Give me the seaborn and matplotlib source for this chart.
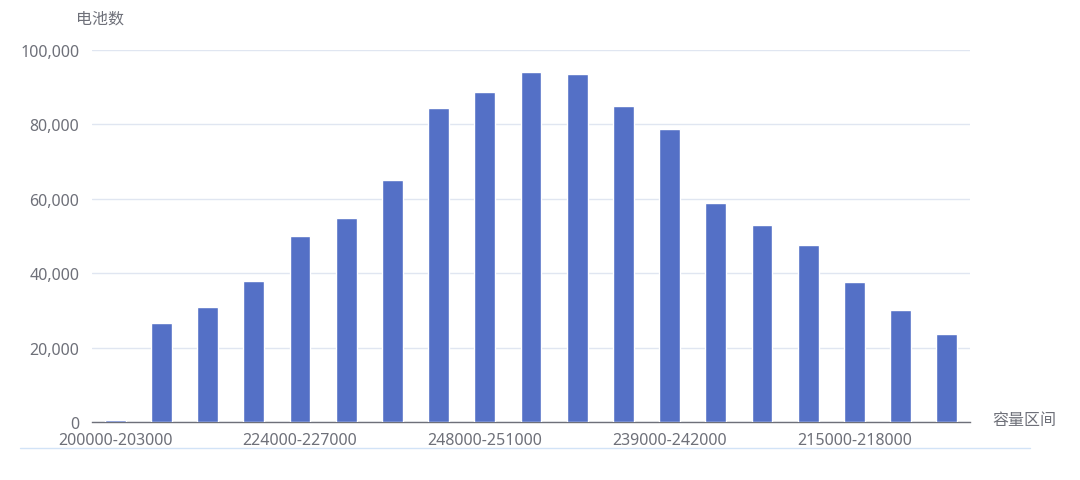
import matplotlib
matplotlib.use('Agg')
import matplotlib.pyplot as plt
import seaborn as sns
import pandas as pd
from matplotlib.lines import Line2D
from matplotlib.ticker import FuncFormatter

# capacity bins (only every 4th label is shown on the axis)
bins = ['200000-203000', '206000-209000', '212000-215000', '218000-221000',
        '224000-227000', '230000-233000', '236000-239000', '242000-245000',
        '248000-251000', '254000-257000', '251000-254000', '245000-248000',
        '239000-242000', '233000-236000', '227000-230000', '221000-224000',
        '215000-218000', '209000-212000', '203000-206000']
counts = [500, 26600, 30900, 37900, 50000, 54900, 65100, 84500, 88800, 94100,
          93600, 85000, 78800, 58900, 53000, 47600, 37700, 30100, 23700]

df = pd.DataFrame({'bin': bins, 'count': counts})

sns.set_style('white')
plt.rcParams['font.family'] = ['Noto Sans', 'Noto Sans CJK SC', 'DejaVu Sans']

text_c = '#6E7079'
fig = plt.figure(figsize=(10.8, 4.81), dpi=100)
ax = fig.add_axes([92 / 1080, 1 - 423 / 481, 878 / 1080, 372 / 481])

sns.barplot(data=df, x='bin', y='count', color='#5470c6', saturation=1,
            width=0.45, ax=ax, zorder=3)

ax.set_ylim(0, 100000)
ax.set_xlim(-0.5, len(bins) - 0.5)
ax.set_yticks(range(0, 100001, 20000))
ax.yaxis.set_major_formatter(FuncFormatter(lambda v, p: f'{int(v):,}'))
ax.grid(axis='y', color='#E0E6F1', linewidth=1)
ax.set_axisbelow(True)

shown = list(range(0, len(bins), 4))
ax.set_xticks(shown)
ax.set_xticklabels([bins[i] for i in shown])
ax.set_xticks([i - 0.5 for i in shown] + [len(bins) - 0.5], minor=True)
ax.tick_params(axis='x', which='major', length=0, pad=7, labelsize=11.5, labelcolor=text_c)
ax.tick_params(axis='x', which='minor', length=5, color=text_c, width=1)
ax.tick_params(axis='y', length=0, pad=9, labelsize=11.5, labelcolor=text_c)

for s in ['top', 'right', 'left']:
    ax.spines[s].set_visible(False)
ax.spines['bottom'].set_color(text_c)
ax.spines['bottom'].set_linewidth(1)
ax.spines['bottom'].set_zorder(2)

ax.set_xlabel('')
ax.set_ylabel('')
fig.text(100 / 1080, 1 - 20 / 481, '电池数', ha='center', va='center', fontsize=11.5, color=text_c)
fig.text(992 / 1080, 1 - 421 / 481, '容量区间', ha='left', va='center', fontsize=11.5, color=text_c)

fig.add_artist(Line2D([20 / 1080, 1030 / 1080], [1 - 449 / 481, 1 - 449 / 481],
                      color='#D2E3F7', linewidth=1))

fig.savefig('out.png', dpi=100, facecolor='white')
